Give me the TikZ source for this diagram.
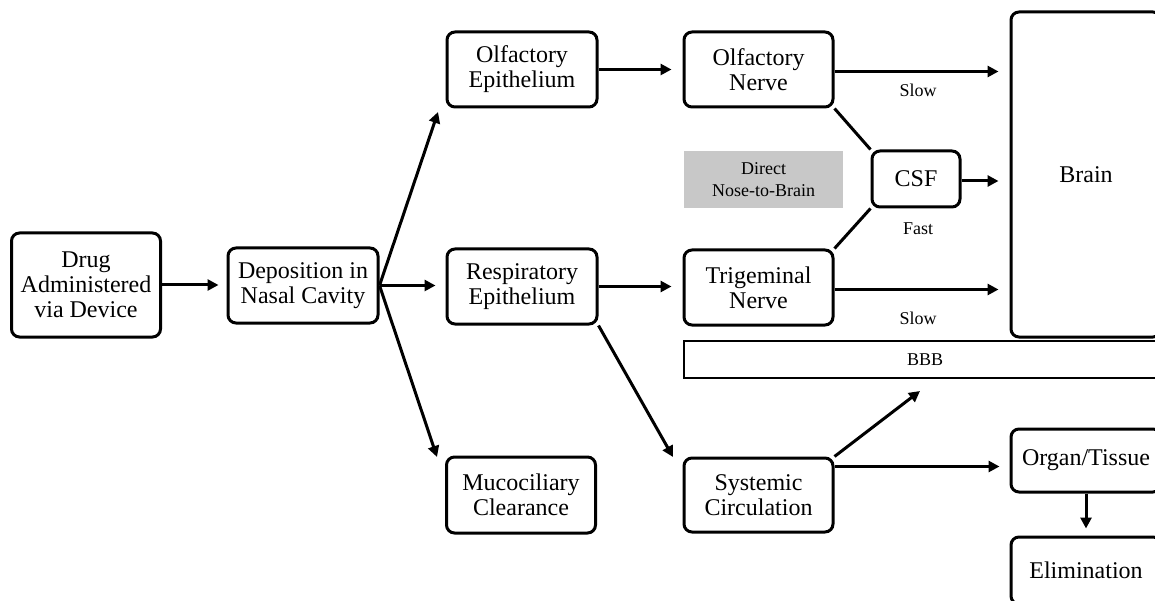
\documentclass[tikz,border=0pt]{standalone}
\usepackage{fontspec}
\setmainfont{Liberation Serif}
\usetikzlibrary{arrows.meta,calc}
\definecolor{dnbgray}{RGB}{200,200,200}
\begin{document}
\begin{tikzpicture}[x=1pt,y=-1pt,
  box/.style={draw, line width=3pt, rounded corners=8pt, align=center,
    inner sep=0pt, font=\fontsize{24}{25}\selectfont},
  arr/.style={line width=3pt, -{Triangle[length=11pt,width=11pt]}},
  conn/.style={line width=3pt},
  small/.style={font=\fontsize{18}{22}\selectfont, align=center, inner sep=0pt}
]
\useasboundingbox (0,0) rectangle (1155,601);
% nodes
\node[box, minimum width=149pt, minimum height=104pt] (drug) at (86,285) {Drug\\Administered\\via Device};
\node[box, minimum width=150pt, minimum height=75pt] (dep) at (303,285.5) {Deposition in\\Nasal Cavity};
\node[box, minimum width=150pt, minimum height=75pt] (oe) at (522,69.5) {Olfactory\\Epithelium};
\node[box, minimum width=150pt, minimum height=75pt] (re) at (522,286.5) {Respiratory\\Epithelium};
\node[box, minimum width=149pt, minimum height=76pt] (mc) at (521,495) {Mucociliary\\Clearance};
\node[box, minimum width=149pt, minimum height=75pt] (on) at (758.5,69.5) {Olfactory\\Nerve};
\node[box, minimum width=149pt, minimum height=75pt] (tn) at (758.5,287.5) {Trigeminal\\Nerve};
\node[box, minimum width=149pt, minimum height=74pt] (sc) at (758.5,495) {Systemic\\Circulation};
\node[box, minimum width=88pt, minimum height=56pt] (csf) at (916,179) {CSF};
\node[fill=dnbgray, small, minimum width=159pt, minimum height=57pt] (dnb) at (763.5,179.5) {Direct\\Nose-to-Brain};
\node[box, minimum width=150pt, minimum height=325pt] (brain) at (1086,174.5) {Brain};
\node[draw, line width=1.5pt, small, minimum width=482pt, minimum height=37pt] (bbb) at (925,359.5) {BBB};
\node[box, minimum width=150pt, minimum height=63pt] (organ) at (1086,460.5) {Organ/Tissue};
\node[box, minimum width=150pt, minimum height=67pt] (elim) at (1086,570.5) {Elimination};
% free ends
\coordinate (t1) at (438,112);
\coordinate (t2) at (437,457);
\coordinate (t3) at (673,457);
\coordinate (t4) at (920,391);
% connectors
\draw[arr, shorten >=8pt] (drug.east) -- (dep.west |- drug.east);
\draw[arr] (dep.east) -- (t1);
\draw[arr, shorten >=10pt] (dep.east) -- (re.west |- dep.east);
\draw[arr] (dep.east) -- (t2);
\draw[arr, shorten >=11pt] (oe.east) -- (on.west |- oe.east);
\draw[arr, shorten >=11pt] (re.east) -- (tn.west |- re.east);
\draw[arr] (re.south east) -- (t3);
\draw[arr, shorten >=11pt] ([yshift=-2pt]on.east) -- ([yshift=-2pt]on.east -| brain.west);
\draw[arr, shorten >=11pt] ([yshift=-2pt]tn.east) -- ([yshift=-2pt]tn.east -| brain.west);
\draw[arr, shorten >=11pt] ([yshift=-2pt]csf.east) -- ([yshift=-2pt]csf.east -| brain.west);
\draw[conn] (on.south east) -- (csf.north west);
\draw[conn] (tn.north east) -- (csf.south west);
\draw[arr] (sc.north east) -- (t4);
\draw[arr, shorten >=10pt] ([yshift=-10pt]sc.north east) -- ([yshift=-10pt]sc.north east -| organ.west);
\draw[arr, shorten >=7pt] (organ.south) -- (elim.north);
% labels
\node[small] (slow1) at (918,90) {Slow};
\node[small] (fast) at (918,229) {Fast};
\node[small] (slow2) at (918,318) {Slow};
\end{tikzpicture}
\end{document}
